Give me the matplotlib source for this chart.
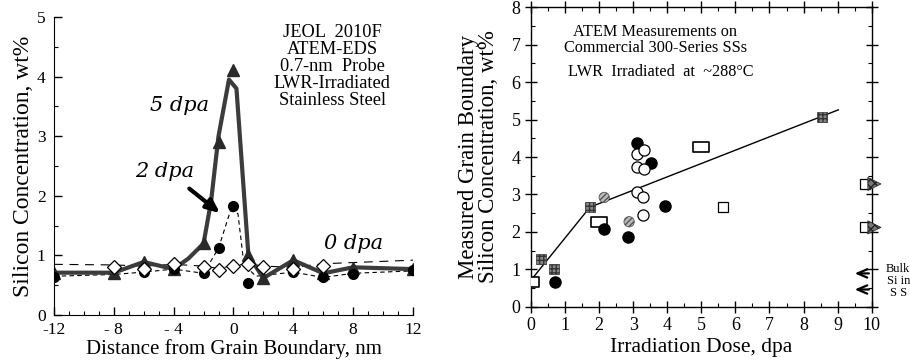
import matplotlib
matplotlib.use('Agg')
import matplotlib.pyplot as plt
import numpy as np
from matplotlib.path import Path

plt.rcParams['font.family'] = ['Liberation Serif', 'DejaVu Serif']

# ---- left panel: Si profiles across grain boundary ----
x5 = [-12, -8, -6, -4, -2, -1, 0, 1, 2, 4, 6, 8, 12]
y5 = [0.71, 0.71, 0.89, 0.78, 1.2, 2.91, 4.11, 1.0, 0.62, 0.92, 0.7, 0.79, 0.77]
# smoothed curve drawn through the 5 dpa data
x5_line = [-12, -8, -6, -4, -3, -2, -1.5, -1, -0.3, 0.2, 1, 2, 4, 6, 8, 12]
y5_line = [0.71, 0.71, 0.89, 0.77, 0.95, 1.2, 1.9, 3.0, 3.95, 3.8, 1.0, 0.62, 0.92, 0.7, 0.8, 0.77]

x2 = [-12, -6, -4, -2, -1, 0, 1, 4, 6, 8, 12]
y2 = [0.63, 0.72, 0.78, 0.70, 1.12, 1.83, 0.54, 0.72, 0.63, 0.68, 0.75]
x2_line = [-12, -8, -6, -4, -2, -1, -0.2, 0.3, 0.7, 1.5, 4, 6, 8, 12]
y2_line = [0.65, 0.68, 0.72, 0.77, 0.70, 1.12, 1.75, 1.7, 0.85, 0.65, 0.72, 0.63, 0.7, 0.74]

x0 = [-8, -6, -4, -2, -1, 0, 1, 2, 4, 6]
y0 = [0.81, 0.78, 0.85, 0.81, 0.76, 0.83, 0.86, 0.81, 0.78, 0.83]
x0_line = [-12, -8, -6, -4, -2, -1, 0, 1, 2, 4, 6, 8, 12]
y0_line = [0.85, 0.84, 0.82, 0.85, 0.82, 0.78, 0.83, 0.86, 0.82, 0.8, 0.86, 0.88, 0.92]

# ---- right panel: GB Si vs dose ----
trend_x = [0, 1.73, 9.02]
trend_y = [0.71, 2.66, 5.26]
hatch_sq_x = [0.3, 0.68, 1.73, 8.53]
hatch_sq_y = [1.27, 1.0, 2.66, 5.06]
rect_x = [0.0, 2.0, 4.98]
rect_y = [0.67, 2.27, 4.28]
small_sq_x = [5.65]
small_sq_y = [2.67]
edge_sq_x = [9.8, 9.8]
edge_sq_y = [3.28, 2.12]
edge_tri_x = [10.08, 10.08]
edge_tri_y = [3.28, 2.12]
fill_c_x = [0.7, 2.15, 2.86, 3.1, 3.51, 3.94]
fill_c_y = [0.65, 2.08, 1.85, 4.37, 3.83, 2.7]
open_c_x = [3.1, 3.33, 3.1, 3.33, 3.1, 3.3, 3.3]
open_c_y = [4.08, 4.19, 3.74, 3.67, 3.07, 2.94, 2.45]
gray_c_x = [2.15, 2.88]
gray_c_y = [2.92, 2.27]
bulk_si = [0.89, 0.46]

# wide open rectangle marker
rect_marker = Path([(-1, -0.55), (1, -0.55), (1, 0.55), (-1, 0.55), (-1, -0.55)],
                   [Path.MOVETO, Path.LINETO, Path.LINETO, Path.LINETO, Path.CLOSEPOLY])

fig = plt.figure(figsize=(9.1, 3.6), dpi=100)

# left
ax1 = fig.add_axes([0.0593, 0.125, 0.3945, 0.8278])
ax1.plot(x0_line, y0_line, color='black', lw=0.8, dashes=(8, 6))
ax1.plot(x2_line, y2_line, color='black', lw=0.8, dashes=(4, 3))
ax1.plot(x5_line, y5_line, color='#3c3c3c', lw=3, solid_joinstyle='round')
ax1.plot(x5, y5, ls='none', marker='^', ms=8, color='#2a2a2a')
ax1.plot(x2, y2, ls='none', marker='o', ms=7, color='black')
ax1.plot(x0, y0, ls='none', marker='D', ms=7, mfc='white', mec='black', mew=0.9)

ax1.set_xlim(-12, 12)
ax1.set_ylim(0, 5)
ax1.set_xticks([-12, -8, -4, 0, 4, 8, 12])
ax1.set_xticklabels(['-12', '- 8', '- 4', '0', '4', '8', '12'])
ax1.set_xticks(np.arange(-12, 13, 1), minor=True)
ax1.set_yticks([0, 1, 2, 3, 4, 5])
ax1.set_yticks(np.arange(0, 5.01, 0.5), minor=True)
ax1.spines['top'].set_visible(False)
ax1.spines['right'].set_visible(False)
ax1.tick_params(which='major', direction='in', length=6, width=1, labelsize=12.5)
ax1.tick_params(axis='x', which='major', pad=5)
ax1.tick_params(axis='y', which='major', pad=6)
ax1.tick_params(which='minor', direction='in', length=3, width=0.8)
ax1.set_xlabel('Distance from Grain Boundary, nm', fontsize=15, labelpad=1)
ax1.set_ylabel('Silicon Concentration, wt%', fontsize=17, labelpad=2)

ax1.text(-3.6, 3.52, '5 dpa', fontsize=15, style='italic', family='DejaVu Serif',
         ha='center', va='center')
ax1.text(-4.6, 2.4, '2 dpa', fontsize=15, style='italic', family='DejaVu Serif',
         ha='center', va='center')
ax1.text(8.0, 1.2, '0 dpa', fontsize=15, style='italic', family='DejaVu Serif',
         ha='center', va='center')
ax1.annotate('', xy=(-0.75, 1.68), xytext=(-3.1, 2.15),
             arrowprops=dict(arrowstyle='-|>,head_length=0.8,head_width=0.35',
                             color='black', lw=3))
ax1.text(6.6, 4.88, 'JEOL  2010F\nATEM-EDS\n0.7-nm  Probe\nLWR-Irradiated\nStainless Steel',
         fontsize=13.2, ha='center', va='top', linespacing=1.0)

# right
ax2 = fig.add_axes([0.5835, 0.148, 0.3744, 0.8317])
ax2.plot(trend_x, trend_y, color='black', lw=1)
ax2.scatter(hatch_sq_x, hatch_sq_y, marker='s', s=50, facecolor='#888888',
            edgecolor='#333333', hatch='++++', lw=0.5, zorder=3)
ax2.plot(rect_x, rect_y, ls='none', marker=rect_marker, ms=12, mfc='white', mec='black',
         mew=1.2, zorder=4)
ax2.plot(small_sq_x, small_sq_y, ls='none', marker='s', ms=7, mfc='white', mec='black',
         mew=0.9, zorder=4)
ax2.plot(edge_sq_x, edge_sq_y, ls='none', marker='s', ms=7, mfc='white', mec='black',
         mew=0.9, zorder=4, clip_on=False)
ax2.scatter(edge_tri_x, edge_tri_y, marker='>', s=90, facecolor='#777777',
            edgecolor='#222222', hatch='xxxx', lw=0.5, zorder=5, clip_on=False)
ax2.plot(fill_c_x, fill_c_y, ls='none', marker='o', ms=8, color='black', zorder=4)
ax2.plot(open_c_x, open_c_y, ls='none', marker='o', ms=8, mfc='white', mec='black',
         mew=0.9, zorder=4)
ax2.scatter(gray_c_x, gray_c_y, marker='o', s=55, facecolor='#bbbbbb',
            edgecolor='#555555', hatch='//////', lw=0.6, zorder=4)
for b in bulk_si:
    ax2.annotate('', xy=(9.42, b), xytext=(10, b),
                 arrowprops=dict(arrowstyle='->,head_length=0.7,head_width=0.3',
                                 color='black', lw=1.6))

ax2.set_xlim(0, 10)
ax2.set_ylim(0, 8)
ax2.set_xticks(range(0, 11))
ax2.set_xticks(np.arange(0, 10.01, 0.5), minor=True)
ax2.set_yticks(range(0, 9))
ax2.set_yticks(np.arange(0, 8.01, 0.5), minor=True)
ax2.tick_params(which='major', direction='inout', length=9, width=1, labelsize=13,
                top=True, right=True, pad=3)
ax2.tick_params(which='minor', direction='in', length=3, width=0.8, top=True, right=True)
for sp in ax2.spines.values():
    sp.set_linewidth(1)
ax2.set_xlabel('Irradiation Dose, dpa', fontsize=15.5, labelpad=3)
ax2.set_ylabel('Measured Grain Boundary\nSilicon Concentration, wt%', fontsize=16.5,
               labelpad=9, linespacing=0.95)
ax2.text(3.65, 7.13, 'ATEM Measurements on\nCommercial 300-Series SSs', fontsize=11.7,
         ha='center', va='center', linespacing=1.0)
ax2.text(3.82, 6.28, 'LWR  Irradiated  at  ~288°C', fontsize=11.7, ha='center', va='center')
ax2.text(10.78, 0.68, 'Bulk\nSi in\nS S', fontsize=9, ha='center', va='center',
         linespacing=1.0)

fig.savefig('out.png', dpi=100)
